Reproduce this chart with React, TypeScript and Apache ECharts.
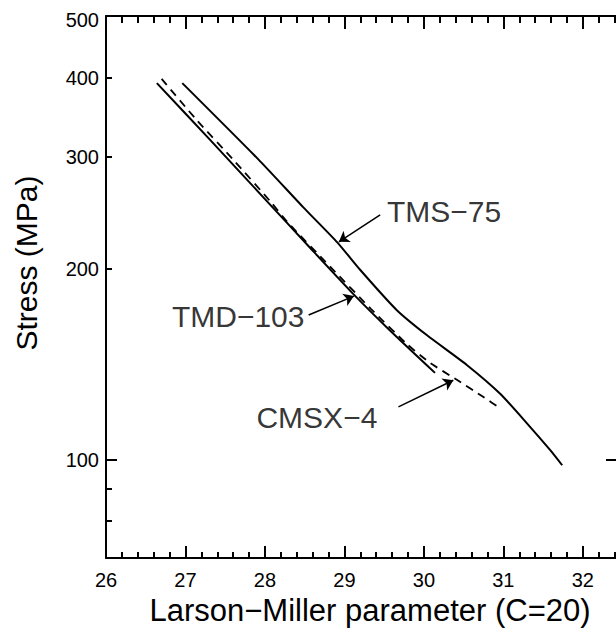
import React, { useEffect, useRef } from 'react';
import * as echarts from 'echarts';

// Larson-Miller parameter (x) and stress in MPa (y)
const tms75X = [26.96, 27.92, 28.48, 28.91, 29.2, 29.66, 30.04, 30.54, 30.96, 31.3, 31.59, 31.74];
const tms75Y = [392, 297, 250, 220, 199, 172, 157, 141, 127, 114, 103.5, 98];

const tmd103X = [26.64, 27.31, 27.98, 28.57, 29.11, 29.58, 30.14];
const tmd103Y = [392, 319, 259, 215.5, 182.5, 159.5, 137];

const cmsx4X = [26.7, 27.14, 27.6, 28.07, 28.28, 28.82, 29.33, 29.79, 30.08, 30.42, 30.75, 30.96];
const cmsx4Y = [398, 343, 297, 255, 237, 201.5, 173, 152, 142, 133.5, 125.5, 120.5];

// Annotation labels (centre) and arrows (from -> to), in data units
const labelNames = ['TMS\u221275', 'TMD\u2212103', 'CMSX\u22124'];
const labelX = [30.26, 27.67, 28.66];
const labelY = [246, 168, 116.2];
const arrowFromX = [29.45, 28.55, 29.68];
const arrowFromY = [243, 169, 121.1];
const arrowToX = [28.93, 29.12, 30.37];
const arrowToY = [220.4, 181, 133.4];

// Axis ticks
const xMajorTicks = [26, 27, 28, 29, 30, 31, 32];
const xMinorOffsets = [0.2, 0.4, 0.6, 0.8];
const yLabelTicks = [100, 200, 300, 400, 500];
const yLongTicks = [100];
const yShortTicks = [80, 90, 200, 300, 400, 500];

const X_MIN = 26;
const X_MAX = 32.43;
const Y_MIN = 70;
const Y_MAX = 500;

const FONT = "'Liberation Sans', Arial, 'Noto Sans CJK JP', sans-serif";

const zip = (xs: number[], ys: number[]) => xs.map((x, i) => [x, ys[i]]);

export default function App() {
  const ref = useRef<HTMLDivElement>(null);

  useEffect(() => {
    if (!ref.current) return;
    const chart = echarts.init(ref.current, null, { renderer: 'svg' });

    const xMinorTicks: number[] = [];
    xMajorTicks.forEach((m) =>
      xMinorOffsets.forEach((o) => {
        const v = Math.round((m + o) * 10) / 10;
        if (v < X_MAX) xMinorTicks.push(v);
      })
    );

    const axisLineStyle = { color: '#000', width: 2 };
    const tickLine = { color: '#000', width: 2 };

    const baseX = {
      type: 'value' as const,
      min: X_MIN,
      max: X_MAX,
      splitLine: { show: false },
      axisLine: { show: false, onZero: false },
      axisLabel: { show: false },
    };
    const baseY = {
      type: 'log' as const,
      logBase: 10,
      min: Y_MIN,
      max: Y_MAX,
      splitLine: { show: false },
      minorTick: { show: false },
      axisLine: { show: false, onZero: false },
      axisLabel: { show: false },
    };

    const curveStyle = {
      type: 'line' as const,
      showSymbol: false,
      symbol: 'none',
      smooth: 0.2,
    };

    const option: any = {
      animation: false,
      backgroundColor: '#fff',
      grid: { left: 106, right: 640 - 617, top: 16, bottom: 637 - 558, containLabel: false },
      xAxis: [
        {
          ...baseX,
          position: 'bottom',
          axisLine: { show: true, onZero: false, lineStyle: axisLineStyle },
          axisTick: { show: true, inside: true, length: 12, lineStyle: tickLine, customValues: xMajorTicks },
          axisLabel: {
            show: true,
            customValues: xMajorTicks,
            color: '#000',
            fontSize: 20,
            fontFamily: FONT,
            margin: 12,
          },
          name: 'Larson\u2212Miller parameter (C=20)',
          nameLocation: 'middle',
          nameGap: 37,
          nameTextStyle: { color: '#000', fontSize: 31, fontFamily: FONT, padding: [0, 0, 0, 17] },
        },
        {
          ...baseX,
          position: 'bottom',
          axisTick: { show: true, inside: true, length: 6, lineStyle: tickLine, customValues: xMinorTicks },
        },
        {
          ...baseX,
          position: 'top',
          axisLine: { show: true, onZero: false, lineStyle: axisLineStyle },
          axisTick: { show: true, inside: true, length: 13, lineStyle: tickLine, customValues: xMajorTicks },
        },
        {
          ...baseX,
          position: 'top',
          axisTick: { show: true, inside: true, length: 7, lineStyle: tickLine, customValues: xMinorTicks },
        },
      ],
      yAxis: [
        {
          ...baseY,
          position: 'left',
          axisLine: { show: true, onZero: false, lineStyle: axisLineStyle },
          axisTick: { show: true, inside: true, length: 11, lineStyle: tickLine, customValues: yLongTicks },
          axisLabel: {
            show: true,
            customValues: yLabelTicks,
            color: '#000',
            fontSize: 20,
            fontFamily: FONT,
            margin: 7,
            formatter: (v: number) => (v >= 500 ? '{top|' + v + '}' : String(v)),
            rich: {
              top: { fontSize: 20, fontFamily: FONT, color: '#000', padding: [8, 0, 0, 0] },
            },
          },
          name: 'Stress (MPa)',
          nameLocation: 'middle',
          nameGap: 65,
          nameTextStyle: { color: '#000', fontSize: 30, fontFamily: FONT, padding: [0, 0, 0, 48] },
        },
        {
          ...baseY,
          position: 'left',
          axisTick: { show: true, inside: true, length: 6, lineStyle: tickLine, customValues: yShortTicks },
        },
        {
          ...baseY,
          position: 'right',
          axisLine: { show: true, onZero: false, lineStyle: axisLineStyle },
          axisTick: { show: true, inside: true, length: 11, lineStyle: tickLine, customValues: yLongTicks },
        },
      ],
      series: [
        {
          ...curveStyle,
          name: 'TMS-75',
          data: zip(tms75X, tms75Y),
          lineStyle: { color: '#000', width: 2 },
        },
        {
          ...curveStyle,
          name: 'TMD-103',
          data: zip(tmd103X, tmd103Y),
          lineStyle: { color: '#000', width: 2 },
        },
        {
          ...curveStyle,
          name: 'CMSX-4',
          data: zip(cmsx4X, cmsx4Y),
          lineStyle: { color: '#000', width: 1.8, type: [8, 6] },
        },
        {
          type: 'lines',
          coordinateSystem: 'cartesian2d',
          symbol: ['none', 'arrow'],
          symbolSize: [1, 10],
          lineStyle: { color: '#000', width: 1.5, opacity: 1 },
          itemStyle: { color: '#000' },
          data: arrowFromX.map((x, i) => ({
            coords: [
              [x, arrowFromY[i]],
              [arrowToX[i], arrowToY[i]],
            ],
          })),
        },
        {
          type: 'scatter',
          symbolSize: 1,
          itemStyle: { color: 'transparent' },
          data: labelNames.map((n, i) => [labelX[i], labelY[i], n]),
          label: {
            show: true,
            position: [0, 0],
            align: 'center',
            verticalAlign: 'middle',
            formatter: (p: any) => p.data[2],
            color: '#000',
            fontSize: 30,
            fontFamily: FONT,
            textBorderWidth: 0,
          },
        },
      ],
    };

    chart.setOption(option);
    return () => chart.dispose();
  }, []);

  return (
    <div
      ref={ref}
      style={{ position: 'fixed', left: 0, top: 0, width: 640, height: 637, background: '#fff' }}
    />
  );
}
